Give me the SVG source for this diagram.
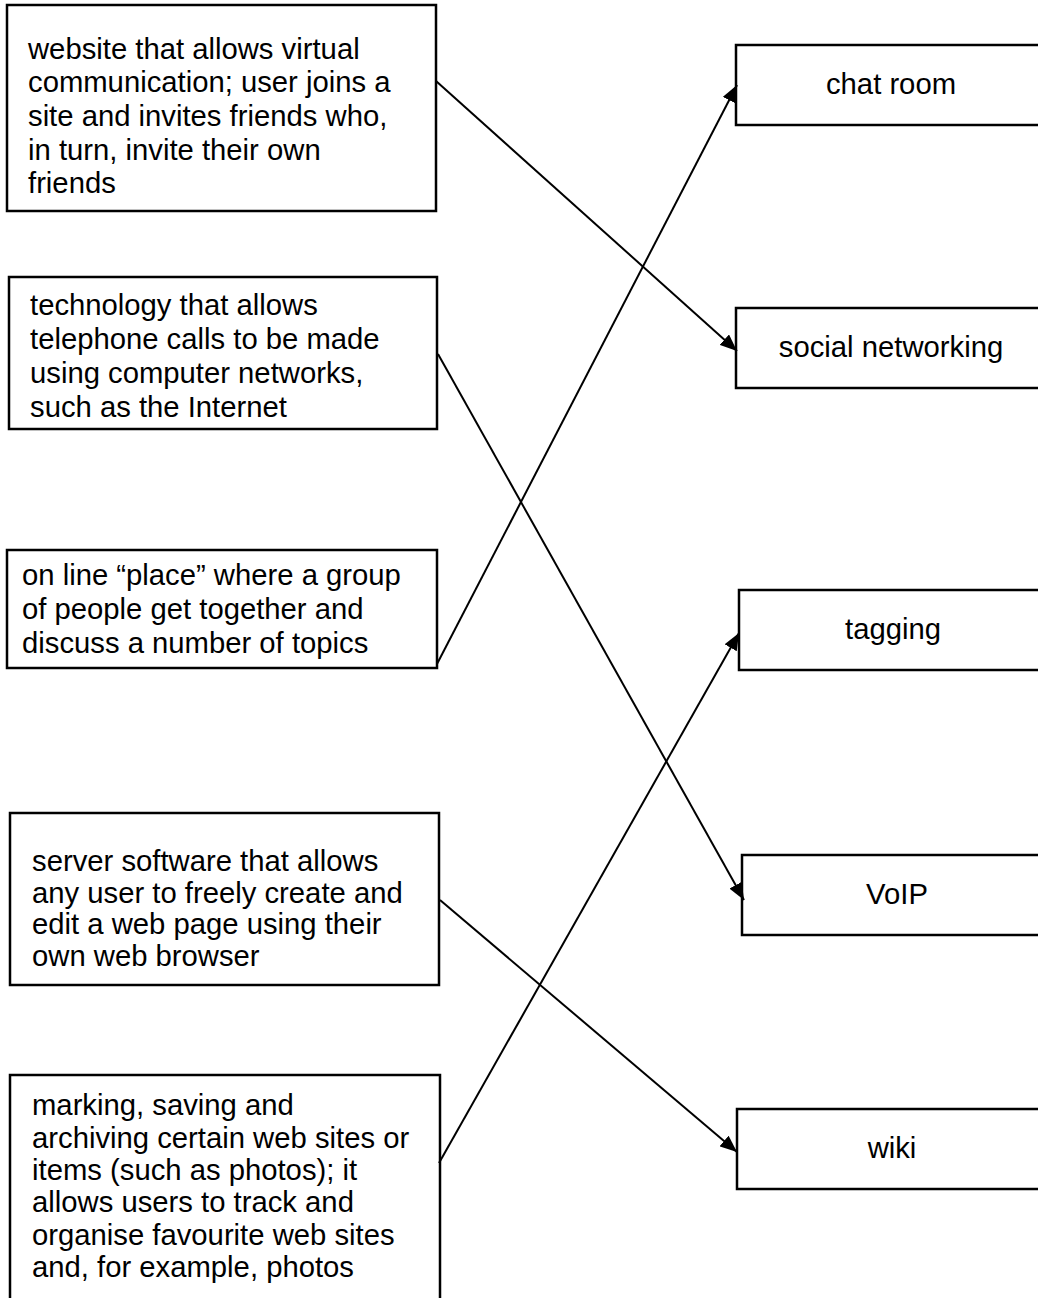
<svg xmlns="http://www.w3.org/2000/svg" width="1038" height="1298" viewBox="0 0 1038 1298">
<style>
.box{fill:#fff;stroke:#000;stroke-width:2.5}
.t{font-family:"Liberation Sans",Arial,sans-serif;font-size:29.25px;fill:#000}
.c{text-anchor:middle}
.ln{stroke:#000;stroke-width:2;fill:none}
</style>
<defs>
<marker id="ah" markerUnits="userSpaceOnUse" markerWidth="18" markerHeight="14" refX="17" refY="7" orient="auto">
<path d="M0,0 L17,7 L0,14 z" fill="#000"/>
</marker>
</defs>
<rect width="1038" height="1298" fill="#fff"/>
<g id="d1">
<rect class="box" x="7" y="5" width="429" height="206"/>
<text class="t"><tspan x="28" y="58.5">website that allows virtual</tspan><tspan x="28" y="92.2">communication; user joins a</tspan><tspan x="28" y="126">site and invites friends who,</tspan><tspan x="28" y="159.7">in turn, invite their own</tspan><tspan x="28" y="193.4">friends</tspan></text>
</g>
<g id="d2">
<rect class="box" x="9" y="277" width="428" height="152"/>
<text class="t"><tspan x="30" y="315">technology that allows</tspan><tspan x="30" y="349">telephone calls to be made</tspan><tspan x="30" y="383">using computer networks,</tspan><tspan x="30" y="417">such as the Internet</tspan></text>
</g>
<g id="d3">
<rect class="box" x="7" y="550" width="430" height="118"/>
<text class="t"><tspan x="22" y="585">on line “place” where a group</tspan><tspan x="22" y="619">of people get together and</tspan><tspan x="22" y="653">discuss a number of topics</tspan></text>
</g>
<g id="d4">
<rect class="box" x="10" y="813" width="429" height="172"/>
<text class="t"><tspan x="32" y="871">server software that allows</tspan><tspan x="32" y="903">any user to freely create and</tspan><tspan x="32" y="934">edit a web page using their</tspan><tspan x="32" y="966">own web browser</tspan></text>
</g>
<g id="d5">
<rect class="box" x="10" y="1075" width="430" height="240"/>
<text class="t"><tspan x="32" y="1115">marking, saving and</tspan><tspan x="32" y="1148">archiving certain web sites or</tspan><tspan x="32" y="1180">items (such as photos); it</tspan><tspan x="32" y="1212">allows users to track and</tspan><tspan x="32" y="1245">organise favourite web sites</tspan><tspan x="32" y="1277">and, for example, photos</tspan></text>
</g>
<g id="chat">
<rect class="box" x="736" y="45" width="310" height="80"/>
<text class="t c" x="891" y="94">chat room</text>
</g>
<g id="social">
<rect class="box" x="736" y="308" width="310" height="80"/>
<text class="t c" x="891" y="357">social networking</text>
</g>
<g id="tagging">
<rect class="box" x="739" y="590" width="310" height="80"/>
<text class="t c" x="893" y="639">tagging</text>
</g>
<g id="voip">
<rect class="box" x="742" y="855" width="310" height="80"/>
<text class="t c" x="897" y="904">VoIP</text>
</g>
<g id="wiki">
<rect class="box" x="737" y="1109" width="310" height="80"/>
<text class="t c" x="892" y="1158">wiki</text>
</g>
<g id="connectors">
<line class="ln" x1="436" y1="81" x2="737" y2="351" marker-end="url(#ah)"/>
<line class="ln" x1="438" y1="354" x2="744" y2="900" marker-end="url(#ah)"/>
<line class="ln" x1="437" y1="664" x2="737" y2="85" marker-end="url(#ah)"/>
<line class="ln" x1="440" y1="900" x2="737" y2="1152" marker-end="url(#ah)"/>
<line class="ln" x1="439" y1="1163" x2="739" y2="633" marker-end="url(#ah)"/>
</g>
</svg>
